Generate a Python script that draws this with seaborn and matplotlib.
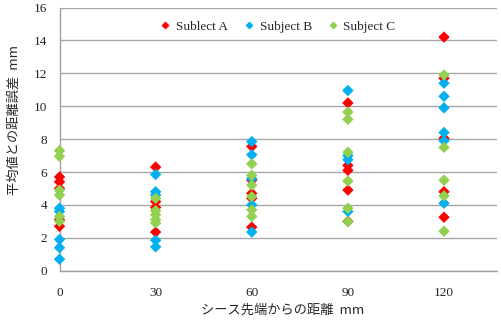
import matplotlib
matplotlib.use("Agg")
import matplotlib.pyplot as plt
import seaborn as sns
import pandas as pd

distances = [0, 30, 60, 90, 120]
subject_a = [
    [5.7, 5.4, 5.0, 3.1, 2.7],
    [6.3, 4.2, 3.85, 2.35],
    [7.55, 5.5, 4.7, 4.4, 2.65],
    [10.2, 6.4, 6.1, 4.9, 3.0],
    [14.2, 11.7, 8.05, 4.8, 3.25],
]
subject_b = [
    [3.8, 3.6, 1.9, 1.4, 0.7],
    [5.85, 4.8, 4.6, 1.85, 1.45],
    [7.85, 7.05, 5.6, 4.0, 2.35],
    [10.95, 7.0, 6.75, 3.6],
    [11.4, 10.6, 9.9, 8.4, 7.9, 4.1],
]
subject_c = [
    [7.3, 6.95, 4.9, 4.6, 3.3, 3.0],
    [4.4, 3.65, 3.4, 3.1, 2.9],
    [6.5, 5.8, 5.2, 4.5, 3.7, 3.3],
    [9.65, 9.2, 7.2, 5.45, 3.8, 2.98],
    [11.9, 7.5, 5.5, 4.55, 2.4],
]
series_names = ["Sublect A", "Subject B", "Subject C"]
colors = ["#FF0000", "#00B0F0", "#92D050"]
y_ticks = [0, 2, 4, 6, 8, 10, 12, 14, 16]
x_ticks = [0, 30, 60, 90, 120]

rows = []
for name, data in zip(series_names, [subject_a, subject_b, subject_c]):
    for d, vals in zip(distances, data):
        for v in vals:
            rows.append({"x": d, "y": v, "subject": name})
df = pd.DataFrame(rows)

sns.set_style("white")
plt.rcParams["font.family"] = ["Liberation Serif", "Noto Sans CJK JP"]

fig = plt.figure(figsize=(5.01, 3.22), dpi=100)
ax = fig.add_axes([0.1188, 0.1593, 0.873, 0.8174])

sns.scatterplot(data=df, x="x", y="y", hue="subject", hue_order=series_names,
                palette=colors, marker="D", s=34, edgecolor="none", ax=ax,
                clip_on=False, zorder=3)

ax.set_xlim(0, 136.5)
ax.set_ylim(0, 16)
ax.set_xticks(x_ticks)
ax.set_yticks(y_ticks)
ax.tick_params(axis="x", direction="in", length=3, color="#A0A0A0", labelsize=9.5, pad=12)
ax.tick_params(axis="y", length=0, labelsize=9.5, pad=9)
for lbl in ax.get_xticklabels() + ax.get_yticklabels():
    lbl.set_fontfamily("Liberation Serif")
ax.yaxis.grid(True, color="#A6A6A6", linewidth=1)
ax.xaxis.grid(False)
for side in ["top", "right"]:
    ax.spines[side].set_visible(False)
for side in ["left", "bottom"]:
    ax.spines[side].set_color("#A0A0A0")
    ax.spines[side].set_linewidth(1)

ax.set_xlabel("シース先端からの距離  mm", fontsize=9.5,
              family=["Noto Sans CJK JP", "DejaVu Sans"])
ax.xaxis.set_label_coords(0.511, -0.125)
ax.set_ylabel("平均値との距離誤差  mm", fontsize=9.5,
              family=["Noto Sans CJK JP", "DejaVu Sans"])
ax.yaxis.set_label_coords(-0.088, 0.573)

leg = ax.legend(loc="upper center", bbox_to_anchor=(0.49, 0.995), ncol=3, frameon=False,
                handletextpad=-0.2, columnspacing=0.6, markerscale=0.75,
                prop={"family": "Liberation Serif", "size": 9.5})

fig.savefig("out.png", dpi=100)
